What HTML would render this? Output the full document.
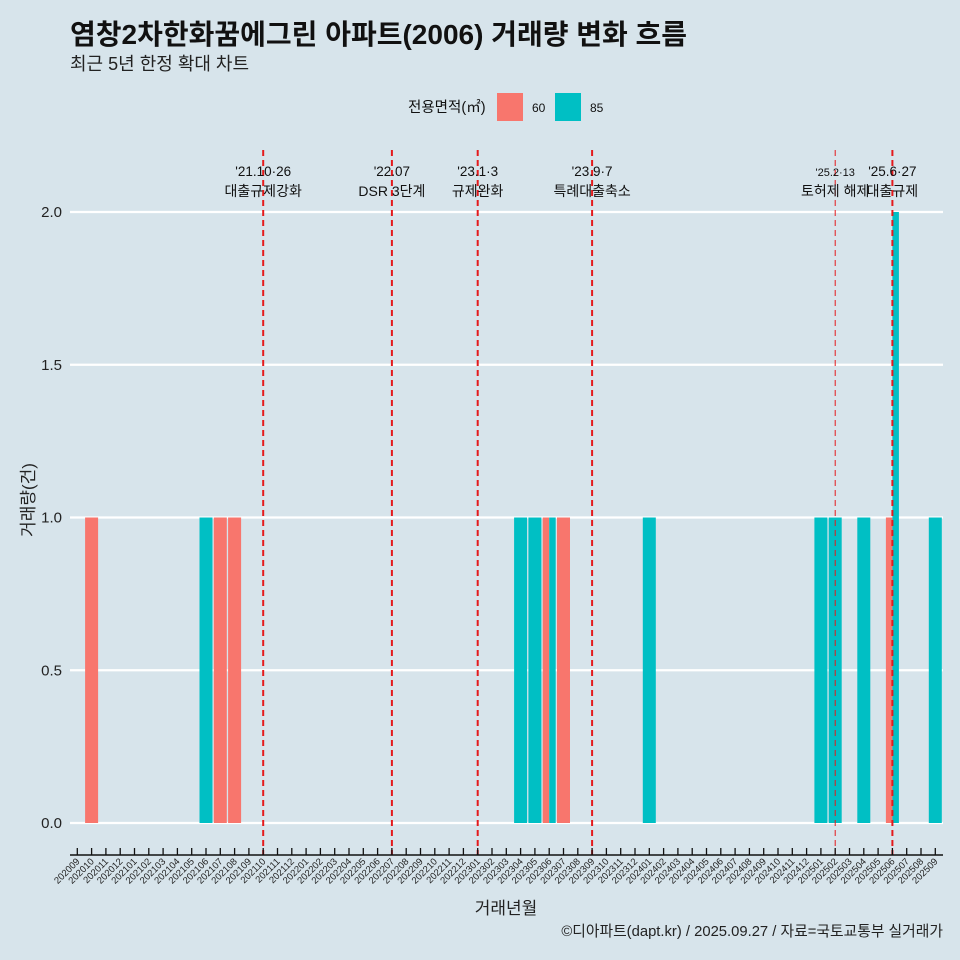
<!DOCTYPE html>
<html><head><meta charset="utf-8"><style>
body{margin:0;background:#d7e4eb;}
svg{display:block;font-family:"Liberation Sans","Noto Sans CJK KR",sans-serif;}
</style></head><body>
<svg id="chart" width="960" height="960" viewBox="0 0 960 960">
<rect x="0" y="0" width="960" height="960" fill="#d7e4eb"/>
<text x="70" y="44" font-size="28" font-weight="bold" fill="#111">염창2차한화꿈에그린 아파트(2006) 거래량 변화 흐름</text>
<text x="70" y="70" font-size="18" fill="#222">최근 5년 한정 확대 차트</text>
<g>
<text x="408" y="112" font-size="14.5" fill="#111">전용면적(㎡)</text>
<rect x="497" y="93" width="26" height="28" fill="#F8766D"/>
<text x="532" y="112" font-size="12" fill="#111">60</text>
<rect x="555" y="93" width="26" height="28" fill="#00BFC4"/>
<text x="590" y="112" font-size="12" fill="#111">85</text>
</g>
<g id="grid"></g><g id="bars"></g><g id="events"></g><g id="xaxis"></g>
<text x="0" y="0" transform="translate(34,500) rotate(-90)" text-anchor="middle" font-size="17" fill="#222">거래량(건)</text>
<text x="506" y="914" text-anchor="middle" font-size="17" fill="#222">거래년월</text>
<text x="943" y="936" text-anchor="end" font-size="14.8" fill="#222">©디아파트(dapt.kr) / 2025.09.27 / 자료=국토교통부 실거래가</text>
</svg>
<script>
const months = [];
for (let y = 2020, m = 9; !(y === 2025 && m === 10); ) { months.push(String(y) + String(m).padStart(2, '0')); m++; if (m > 12) { m = 1; y++; } }
const series60 = {"202010":1,"202107":1,"202108":1,"202306":1,"202307":1,"202506":1};
const series85 = {"202106":1,"202304":1,"202305":1,"202306":1,"202401":1,"202501":1,"202502":1,"202504":1,"202506":2,"202509":1};
const yTicks = [0, 0.5, 1, 1.5, 2];
const yTickLabels = ["0.0","0.5","1.0","1.5","2.0"];
const eventMonths = ["202110","202207","202301","202309","202502","202506"];
const eventDates = ["'21.10·26","'22.07","'23.1·3","'23.9·7","'25.2·13","'25.6·27"];
const eventNames = ["대출규제강화","DSR 3단계","규제완화","특례대출축소","토허제 해제","대출규제"];
const NS = "http://www.w3.org/2000/svg";
const x0 = 77.3, step = 14.3, yZero = 823, yUnit = 305.5;
const xs = m => x0 + months.indexOf(m) * step;
const ys = v => yZero - v * yUnit;
function mk(tag, attrs, parent) { const e = document.createElementNS(NS, tag); for (const k in attrs) e.setAttribute(k, attrs[k]); parent.appendChild(e); return e; }
const grid = document.getElementById('grid');
yTicks.forEach((v, i) => {
  const l = mk('line', {x1:70, x2:943, y1:ys(v), y2:ys(v), stroke:'#fff', 'stroke-width':2.2}, grid);
  
  
  const t = mk('text', {x:62, y:ys(v)+5, 'text-anchor':'end', 'font-size':15, fill:'#222'}, grid);
  t.textContent = yTickLabels[i];
  
  
});
const bars = document.getElementById('bars');
const bw = 13;
months.forEach(m => {
  const a = series60[m] || 0, b = series85[m] || 0;
  const both = a > 0 && b > 0;
  const cx = xs(m);
  if (a > 0) {
    const r = mk('rect', {x: cx - bw/2, y: ys(a), width: both ? bw/2 : bw, height: a*yUnit, fill:'#F8766D'}, bars);
    
    
  }
  if (b > 0) {
    const r = mk('rect', {x: both ? cx : cx - bw/2, y: ys(b), width: both ? bw/2 : bw, height: b*yUnit, fill:'#00BFC4'}, bars);
    
    
  }
});
const ev = document.getElementById('events');
eventMonths.forEach((m, i) => {
  const x = xs(m);
  const thin = m === "202502";
  const l = mk('line', {x1:x, x2:x, y1:150, y2:855, stroke:'#e41a1c', 'stroke-width': thin ? 1 : 2, 'stroke-dasharray':'6,4'}, ev);
  
  
  const t1 = mk('text', {x:x, y:176, 'text-anchor':'middle', 'font-size': thin ? 11 : 13.5, fill:'#111'}, ev);
  t1.textContent = eventDates[i];
  
  
  const t2 = mk('text', {x:x, y:196, 'text-anchor':'middle', 'font-size':14, fill:'#111'}, ev);
  t2.textContent = eventNames[i];
  
  
});
const xa = document.getElementById('xaxis');
const al = mk('line', {x1:70, x2:943, y1:855, y2:855, stroke:'#111', 'stroke-width':1.5}, xa);


months.forEach(m => {
  const x = xs(m);
  const tk = mk('line', {x1:x, x2:x, y1:848, y2:855, stroke:'#111', 'stroke-width':1.3}, xa);
  
  
  const t = mk('text', {x:0, y:0, transform:`translate(${x+3},${862}) rotate(-45)`, 'text-anchor':'end', 'font-size':9.5, fill:'#222'}, xa);
  t.textContent = m;
  
  
});
</script>
</body></html>
